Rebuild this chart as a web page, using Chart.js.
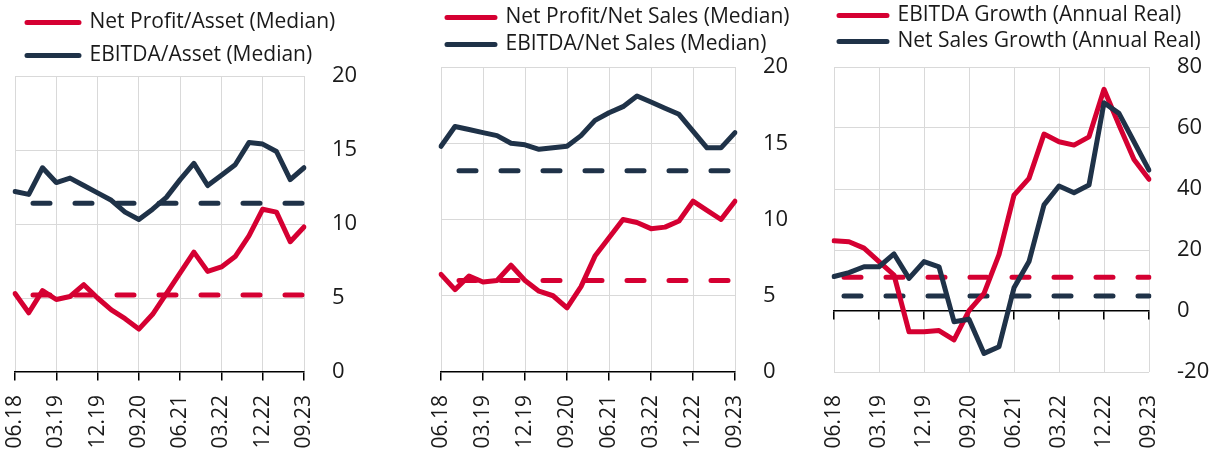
<!DOCTYPE html>
<html>
<head>
<meta charset="utf-8">
<script src="https://cdn.jsdelivr.net/npm/chart.js@4.4.1/dist/chart.umd.min.js"></script>
<style>
  body { margin: 0; background: #fff; }
  #wrap { position: relative; width: 1222px; height: 453px; overflow: hidden; }
  canvas { position: absolute; top: 0; }
</style>
</head>
<body>
<div id="wrap">
  <canvas id="assetChart" width="400" height="453" style="left:0px"></canvas>
  <canvas id="salesChart" width="400" height="453" style="left:410px"></canvas>
  <canvas id="growthChart" width="412" height="453" style="left:810px"></canvas>
</div>
<script>
const quarters = [
  "06.18", "09.18", "12.18", "03.19", "06.19", "09.19", "12.19", "03.20",
  "06.20", "09.20", "12.20", "03.21", "06.21", "09.21", "12.21", "03.22",
  "06.22", "09.22", "12.22", "03.23", "06.23", "09.23",
];

// left panel
const netProfitAsset = [5.3, 4.0, 5.5, 4.9, 5.1, 5.9, 5.0, 4.2, 3.6, 2.9, 3.9, 5.3, 6.7, 8.1, 6.8, 7.1, 7.8, 9.2, 11.0, 10.8, 8.8, 9.8];
const ebitdaAsset = [12.2, 12.0, 13.8, 12.8, 13.1, 12.6, 12.1, 11.6, 10.8, 10.3, 11.0, 11.8, 13.0, 14.1, 12.6, 13.3, 14.0, 15.5, 15.4, 14.9, 13.0, 13.8];
const netProfitAssetAvg = 5.2;
const ebitdaAssetAvg = 11.4;

// middle panel
const netProfitSales = [6.4, 5.4, 6.3, 5.9, 6.0, 7.0, 6.0, 5.3, 5.0, 4.2, 5.6, 7.6, 8.8, 10.0, 9.8, 9.4, 9.5, 9.9, 11.2, 10.6, 10.0, 11.2];
const ebitdaSales = [14.8, 16.1, 15.9, 15.7, 15.5, 15.0, 14.9, 14.6, 14.7, 14.8, 15.5, 16.5, 17.0, 17.4, 18.1, 17.7, 17.3, 16.9, 15.8, 14.7, 14.7, 15.7];
const netProfitSalesAvg = 6.0;
const ebitdaSalesAvg = 13.2;

// right panel
const ebitdaGrowth = [23.0, 22.7, 20.6, 16.2, 11.8, -6.8, -6.8, -6.4, -9.5, 0.1, 5.8, 18.5, 38.0, 43.5, 58.0, 55.5, 54.4, 57.1, 72.7, 61.0, 49.7, 43.2];
const salesGrowth = [11.3, 12.6, 14.5, 14.5, 18.7, 10.7, 16.2, 14.5, -3.5, -2.7, -13.9, -11.7, 7.6, 16.2, 34.8, 41.0, 38.8, 41.3, 68.3, 64.8, 55.5, 46.2];
const ebitdaGrowthAvg = 11.1;
const salesGrowthAvg = 4.9;

const red = "#d50032";
const navy = "#1f3248";
const gridColor = "#d9d9d9";
const textColor = "#1a1a1a";

Chart.defaults.font.family = "'Open Sans', sans-serif";

function solidLine(label, values, color, order) {
  return {
    label: label,
    data: values,
    borderColor: color,
    backgroundColor: color,
    borderWidth: 5,
    borderCapStyle: "round",
    borderJoinStyle: "round",
    pointRadius: 0,
    tension: 0,
    order: order,
  };
}

function avgLine(value, color, dashOffset) {
  return {
    label: "avg",
    data: quarters.map(() => value),
    borderColor: color,
    backgroundColor: color,
    borderWidth: 5,
    borderDash: [17, 25],
    borderDashOffset: dashOffset,
    borderCapStyle: "round",
    pointRadius: 0,
    order: 5,
  };
}

function createPanel(canvasId, cfg) {
  return new Chart(document.getElementById(canvasId), {
    type: "line",
    data: {
      labels: quarters,
      datasets: [
        solidLine(cfg.redLabel, cfg.redValues, red, 1),
        solidLine(cfg.navyLabel, cfg.navyValues, navy, 0),
        avgLine(cfg.redAvg, red, cfg.dashOffset),
        avgLine(cfg.navyAvg, navy, cfg.dashOffset),
      ],
    },
    options: {
      responsive: false,
      animation: false,
      layout: {
        padding: { left: cfg.padLeft, right: cfg.padRight, top: cfg.padTop, bottom: 0 },
      },
      plugins: {
        tooltip: { enabled: false },
        title: {
          display: cfg.spacer > 0,
          text: "",
          position: "top",
          weight: 500,
          padding: 0,
          font: { size: cfg.spacer || 1, lineHeight: 1 },
        },
        legend: {
          position: "top",
          align: "start",
          labels: {
            boxWidth: cfg.boxWidth,
            boxHeight: 0,
            padding: cfg.legendPadding,
            color: textColor,
            font: { size: 21 },
            filter: (item) => item.datasetIndex < 2,
            sort: (a, b) => a.datasetIndex - b.datasetIndex,
          },
        },
      },
      scales: {
        x: {
          type: "category",
          position: "bottom",
          border: { display: false },
          grid: {
            drawTicks: false,
            color: (ctx) => (ctx.index % 3 === 0 ? gridColor : "transparent"),
          },
          ticks: {
            autoSkip: false,
            minRotation: 90,
            maxRotation: 90,
            padding: 23,
            color: textColor,
            font: { size: 21 },
            callback: (value, index) => (index % 3 === 0 ? quarters[index] : ""),
          },
          afterFit: (scale) => {
            scale.height = 81;
            scale.paddingLeft = 0;
            scale.paddingRight = 0;
          },
        },
        x2: {
          type: "category",
          position: { y: 0 },
          border: { display: true, color: "#000", width: 1.5 },
          grid: {
            drawOnChartArea: false,
            tickLength: 8,
            lineWidth: 1.5,
            color: (ctx) => (ctx.index % 3 === 0 ? "#000" : "transparent"),
          },
          ticks: { display: false, autoSkip: false },
          afterFit: (scale) => {
            scale.height = 0;
            scale.paddingLeft = 0;
            scale.paddingRight = 0;
          },
        },
        y: {
          position: "right",
          min: cfg.yMin,
          max: cfg.yMax,
          border: { display: false },
          grid: {
            drawTicks: false,
            color: (ctx) => (ctx.tick && ctx.tick.value === 0 ? "transparent" : gridColor),
          },
          ticks: {
            stepSize: cfg.yStep,
            padding: 28,
            color: textColor,
            font: { size: 22 },
          },
          afterFit: (scale) => {
            scale.width = 60;
          },
        },
      },
    },
  });
}

document.addEventListener("DOMContentLoaded", () => {
  createPanel("assetChart", {
    redLabel: "Net Profit/Asset (Median)",
    navyLabel: "EBITDA/Asset (Median)",
    redValues: netProfitAsset,
    navyValues: ebitdaAsset,
    redAvg: netProfitAssetAvg,
    navyAvg: ebitdaAssetAvg,
    yMin: 0, yMax: 20, yStep: 5,
    padLeft: 15, padRight: 36, padTop: 0,
    legendPadding: 12, boxWidth: 52, spacer: 0,
    dashOffset: 24,
  });
  createPanel("salesChart", {
    redLabel: "Net Profit/Net Sales (Median)",
    navyLabel: "EBITDA/Net Sales (Median)",
    redValues: netProfitSales,
    navyValues: ebitdaSales,
    redAvg: netProfitSalesAvg,
    navyAvg: ebitdaSalesAvg,
    yMin: 0, yMax: 20, yStep: 5,
    padLeft: 31, padRight: 15, padTop: 1,
    legendPadding: 6, boxWidth: 48, spacer: 2,
    dashOffset: 24,
  });
  createPanel("growthChart", {
    redLabel: "EBITDA Growth (Annual Real)",
    navyLabel: "Net Sales Growth (Annual Real)",
    redValues: ebitdaGrowth,
    navyValues: salesGrowth,
    redAvg: ebitdaGrowthAvg,
    navyAvg: salesGrowthAvg,
    yMin: -20, yMax: 80, yStep: 20,
    padLeft: 24, padRight: 13, padTop: 0,
    legendPadding: 5, boxWidth: 48, spacer: 5,
    dashOffset: 32,
  });
});
</script>
</body>
</html>
